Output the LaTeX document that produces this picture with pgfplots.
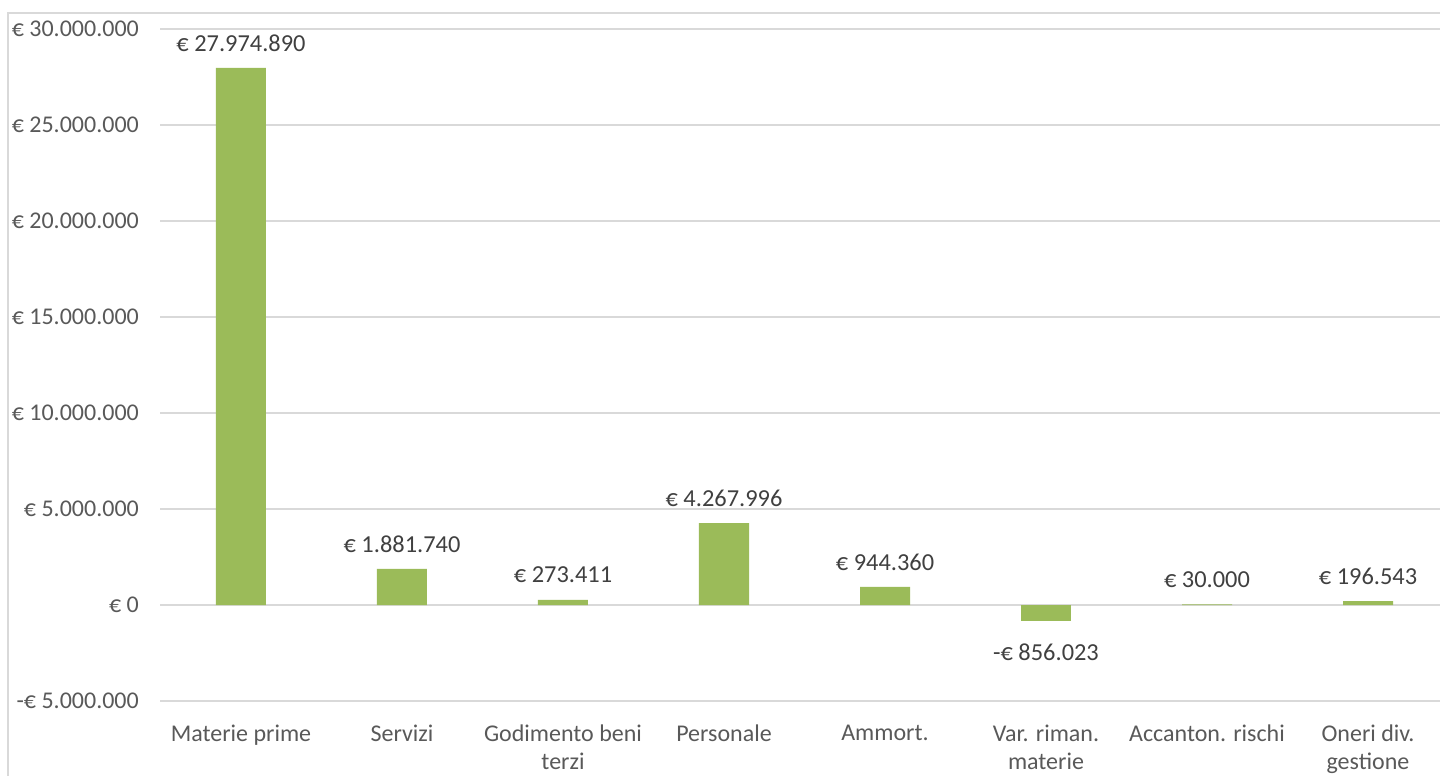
\documentclass[border=0pt]{standalone}
\usepackage{fontspec}
\setmainfont{Carlito}
\usepackage{pgfplots}
\pgfplotsset{compat=1.18}
\usetikzlibrary{calc}
\definecolor{barg}{HTML}{9BBB59}
\definecolor{gridc}{HTML}{D9D9D9}
\definecolor{tickc}{HTML}{595959}
\definecolor{labc}{HTML}{404040}
\begin{document}
\begin{tikzpicture}
\begin{axis}[
  scale only axis, width=644pt, height=336pt,
  xmin=-0.5, xmax=7.5, ymin=-5000000, ymax=30000000,
  axis line style={draw=none},
  major tick style={draw=none}, minor tick style={draw=none},
  ymajorgrids, grid style={gridc, line width=0.75pt},
  xtick={0,1,2,3,4,5,6,7},
  xticklabels={Materie prime, Servizi, {Godimento beni\\terzi}, Personale, Ammort., {Var. riman.\\materie}, Accanton. rischi, {Oneri div.\\gestione}},
  xticklabel style={align=center, font=\fontsize{12}{14}\selectfont, text=tickc, yshift=-4pt},
  ytick={-5000000,0,5000000,10000000,15000000,20000000,25000000,30000000},
  yticklabels={-€ 5.000.000, € 0, € 5.000.000, € 10.000.000, € 15.000.000, € 20.000.000, € 25.000.000, € 30.000.000},
  yticklabel style={font=\fontsize{12}{14}\selectfont, text=tickc, xshift=-7.3pt},
  scaled y ticks=false,
  ybar, bar width=25pt, bar shift=0pt,
  point meta=explicit symbolic,
  clip=false,
]
\addplot[fill=barg, draw=none, nodes near coords,
  nodes near coords style={font=\fontsize{12.2}{14}\selectfont, text=labc, yshift=4.8pt}]
  coordinates {
  (0,27974890) [€ 27.974.890]
  (1,1881740) [€ 1.881.740]
  (2,273411) [€ 273.411]
  (3,4267996) [€ 4.267.996]
  (4,944360) [€ 944.360]
  (6,30000) [€ 30.000]
  (7,196543) [€ 196.543]
  };
\addplot[fill=barg, draw=none, nodes near coords,
  nodes near coords style={font=\fontsize{12.2}{14}\selectfont, text=labc, anchor=north, yshift=-7.5pt}]
  coordinates {
  (5,-856023) [-€ 856.023]
  };
\coordinate (sw) at (rel axis cs:0,0);
\end{axis}
\draw[gridc, line width=0.75pt] ($(sw)+(-76.25pt,-60pt)$) |- ($(sw)+(700pt,344pt)$);
\pgfresetboundingbox
\path[use as bounding box] ($(sw)+(-80.25pt,-37.5pt)$) rectangle ++(720pt,388pt);
\end{tikzpicture}
\end{document}
